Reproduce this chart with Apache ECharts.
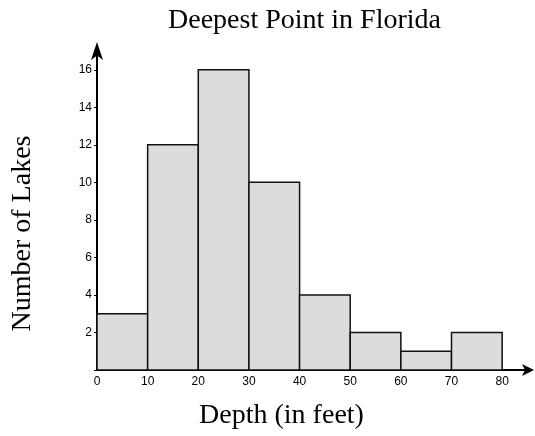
<!DOCTYPE html>
<html>
<head>
<meta charset="utf-8">
<script src="https://cdn.jsdelivr.net/npm/echarts@6/dist/echarts.min.js"></script>
<style>
  html, body { margin: 0; padding: 0; background: #fff; }
  #chart { width: 535px; height: 436px; }
</style>
</head>
<body>
<div id="chart"></div>
<script>
// histogram bins (feet) and counts
const binStarts = [0, 10, 20, 30, 40, 50, 60, 70];
const binWidth = 10;
const lakeCounts = [3, 12, 16, 10, 4, 2, 1, 2];
const xTicks = [0, 10, 20, 30, 40, 50, 60, 70, 80];
const yTicks = [2, 4, 6, 8, 10, 12, 14, 16];

const chartDom = document.getElementById('chart');
const myChart = echarts.init(chartDom);

const histData = binStarts.map((s, i) => [s, s + binWidth, lakeCounts[i]]);

myChart.setOption({
  animation: false,
  title: {
    text: 'Deepest Point in Florida',
    left: 163,
    top: 2,
    textStyle: {
      fontFamily: 'Liberation Serif',
      fontWeight: 'normal',
      fontSize: 28,
      color: '#000',
    },
  },
  grid: {
    left: 97,
    top: 51,
    width: 433,
    bottom: 66,
  },
  xAxis: {
    type: 'value',
    min: 0,
    max: 85.5,
    interval: 10,
    name: 'Depth (in feet)',
    nameLocation: 'middle',
    nameGap: 32,
    nameTextStyle: {
      fontFamily: 'Liberation Serif',
      fontSize: 28,
      color: '#000',
      padding: [0, 64, 0, 0],
    },
    splitLine: { show: false },
    axisLine: {
      symbol: ['none', 'arrow'],
      symbolSize: [9, 12],
      symbolOffset: [0, 4],
      lineStyle: { color: '#000', width: 2 },
    },
    axisTick: { show: false },
    axisLabel: {
      color: '#000',
      fontFamily: 'Liberation Sans',
      fontSize: 12,
      margin: 6,
      formatter: (v) => (xTicks.includes(v) ? String(v) : ''),
    },
  },
  yAxis: {
    type: 'value',
    min: 0,
    max: 17,
    interval: 2,
    name: 'Number of Lakes',
    nameLocation: 'middle',
    nameGap: 60,
    nameTextStyle: {
      fontFamily: 'Liberation Serif',
      fontSize: 28,
      color: '#000',
      padding: [0, 46, 0, 0],
    },
    splitLine: { show: false },
    axisLine: {
      show: true,
      symbol: ['none', 'arrow'],
      symbolSize: [9, 18],
      symbolOffset: [0, 9],
      lineStyle: { color: '#000', width: 2 },
    },
    axisTick: { show: true, length: 3, lineStyle: { color: '#000' } },
    axisLabel: {
      color: '#000',
      fontFamily: 'Liberation Sans',
      fontSize: 12,
      margin: 5,
      formatter: (v) => (yTicks.includes(v) ? String(v) : ''),
    },
  },
  series: [
    {
      type: 'custom',
      data: histData,
      encode: { x: [0, 1], y: 2 },
      renderItem: (params, api) => {
        const p0 = api.coord([api.value(0), api.value(2)]);
        const p1 = api.coord([api.value(1), 0]);
        return {
          type: 'rect',
          shape: { x: p0[0], y: p0[1], width: p1[0] - p0[0], height: p1[1] - p0[1] },
          style: { fill: '#dcdcdc', stroke: '#111', lineWidth: 1.5 },
        };
      },
    },
  ],
});

window.onresize = () => {
  myChart.resize();
};
</script>
</body>
</html>
